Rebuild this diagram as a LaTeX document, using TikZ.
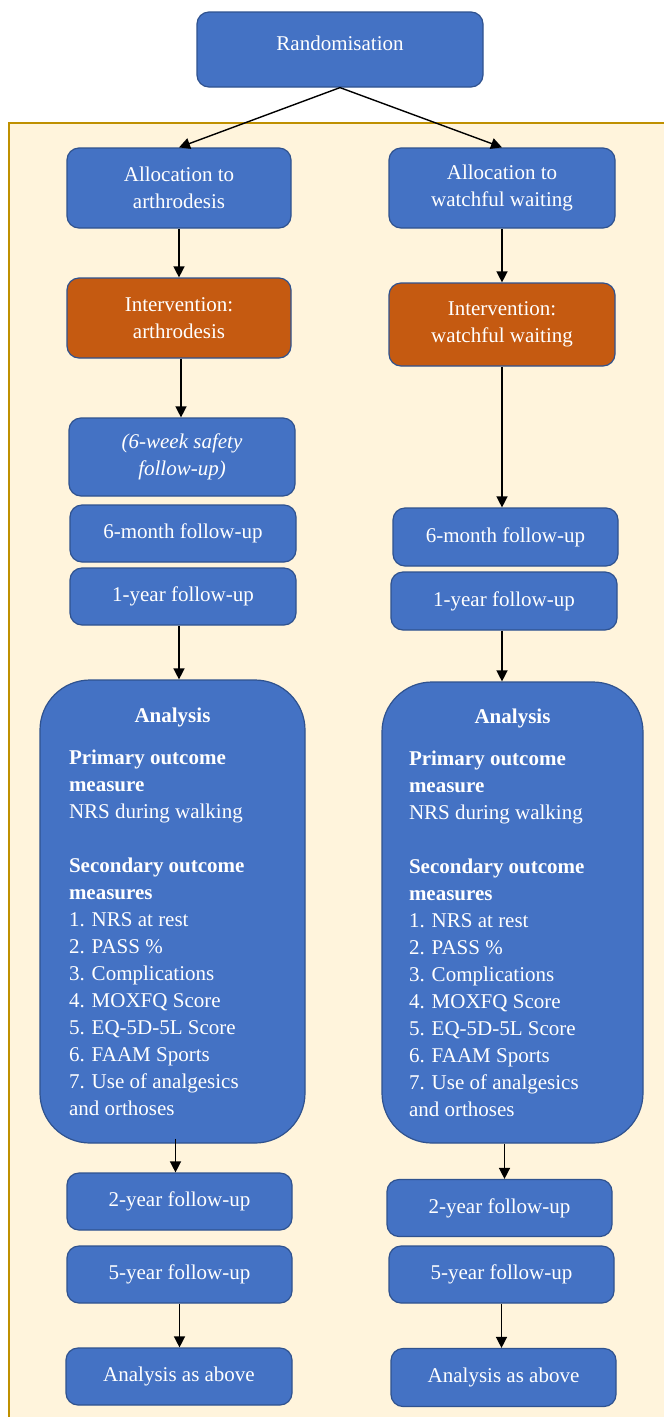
\documentclass[tikz,border=0pt]{standalone}
\usepackage{fontspec}
\setmainfont{Liberation Serif}
\usetikzlibrary{arrows.meta}
\definecolor{boxblue}{HTML}{4472C4}
\definecolor{boxedge}{HTML}{2F528F}
\definecolor{boxorange}{HTML}{C55A11}
\definecolor{bgcream}{HTML}{FFF4DC}
\definecolor{bgedge}{HTML}{BF9000}
\begin{document}
\begin{tikzpicture}[x=1pt,y=-1pt,
  box/.style={draw=boxedge, line width=1.2pt, fill=boxblue, rounded corners=12pt,
    text=white, font=\fontsize{21}{27}\selectfont, align=center, inner sep=0pt},
  orangebox/.style={box, fill=boxorange},
  bigbox/.style={box, rounded corners=50pt},
  conn/.style={-{Triangle[length=11pt,width=11pt]}, line width=1.4pt, black}]
\useasboundingbox (0,0) rectangle (664,1417);
\fill[white] (0,0) rectangle (664,1417);
\draw[bgedge, fill=bgcream, line width=1.5pt] (9,123) rectangle (680,1430);

\node[box, minimum width=286pt, minimum height=75pt, text depth=13pt] (rand) at (340,49.5) {Randomisation};

\node[box, minimum width=224pt, minimum height=80pt] (allocL) at (179,188) {Allocation to\\arthrodesis};
\node[box, minimum width=226pt, minimum height=80pt] (allocR) at (502,188) {Allocation to\\watchful waiting};

\node[orangebox, minimum width=224pt, minimum height=80pt] (intL) at (179,318) {Intervention:\\arthrodesis};
\node[orangebox, minimum width=226pt, minimum height=83pt] (intR) at (502,324.5) {Intervention:\\watchful waiting};

\node[box, minimum width=226pt, minimum height=78pt] (sixwk) at (182,457) {\itshape (6-week safety\\\itshape follow-up)};
\node[box, minimum width=226pt, minimum height=57pt] (sixmoL) at (183,533.5) {6-month follow-up};
\node[box, minimum width=226pt, minimum height=57pt] (oneyL) at (183,596.5) {1-year follow-up};

\node[box, minimum width=225pt, minimum height=58pt] (sixmoR) at (505.5,537) {6-month follow-up};
\node[box, minimum width=226pt, minimum height=58pt] (oneyR) at (504,601) {1-year follow-up};

\newcommand{\analysistext}{\parbox{207pt}{\fontsize{21}{27}\selectfont
  \centering\textbf{Analysis}\par\vspace{15pt}
  \raggedright
  \textbf{Primary outcome}\\
  \textbf{measure}\\
  NRS during walking\\
  \mbox{}\\
  \textbf{Secondary outcome}\\
  \textbf{measures}\\
  1. NRS at rest\\
  2. PASS \%\\
  3. Complications\\
  4. MOXFQ Score\\
  5. EQ-5D-5L Score\\
  6. FAAM Sports\\
  7. Use of analgesics\\
  and orthoses\par}}

\node[bigbox, minimum width=265pt, minimum height=463pt] (anL) at (172.5,911.5) {\analysistext};
\node[bigbox, minimum width=261pt, minimum height=461pt] (anR) at (512.5,912.5) {\analysistext};

\node[box, minimum width=225pt, minimum height=57pt] (twoyL) at (179.5,1201.5) {2-year follow-up};
\node[box, minimum width=225pt, minimum height=57pt] (fiveyL) at (179.5,1274.5) {5-year follow-up};
\node[box, minimum width=226pt, minimum height=57pt] (aaL) at (179,1376.5) {Analysis as above};

\node[box, minimum width=225pt, minimum height=57pt] (twoyR) at (499.5,1208) {2-year follow-up};
\node[box, minimum width=225pt, minimum height=57pt] (fiveyR) at (501.5,1274.5) {5-year follow-up};
\node[box, minimum width=225pt, minimum height=58pt] (aaR) at (503.5,1377.5) {Analysis as above};

\draw[conn] (rand.south) -- (allocL.north);
\draw[conn] (rand.south) -- (allocR.north);
\draw[conn] (allocL.south) -- (allocL.south |- intL.north);
\draw[conn] (allocR.south) -- (allocR.south |- intR.north);
\draw[conn] ([xshift=2pt]intL.south) -- ([xshift=2pt]intL.south |- sixwk.north);
\draw[conn] (intR.south) -- (intR.south |- sixmoR.north);
\draw[conn] (allocL.south |- oneyL.south) -- (allocL.south |- anL.north);
\draw[conn] (intR.south |- oneyR.south) -- (intR.south |- anR.north);
\draw[conn] ([xshift=3pt,yshift=5pt]anL.south) -- ([xshift=3pt]anL.south |- twoyL.north);
\draw[conn] ([xshift=-8pt]anR.south) -- ([xshift=-8pt]anR.south |- twoyR.north);
\draw[conn] (fiveyL.south) -- (fiveyL.south |- aaL.north);
\draw[conn] (fiveyR.south) -- (fiveyR.south |- aaR.north);
\end{tikzpicture}
\end{document}
